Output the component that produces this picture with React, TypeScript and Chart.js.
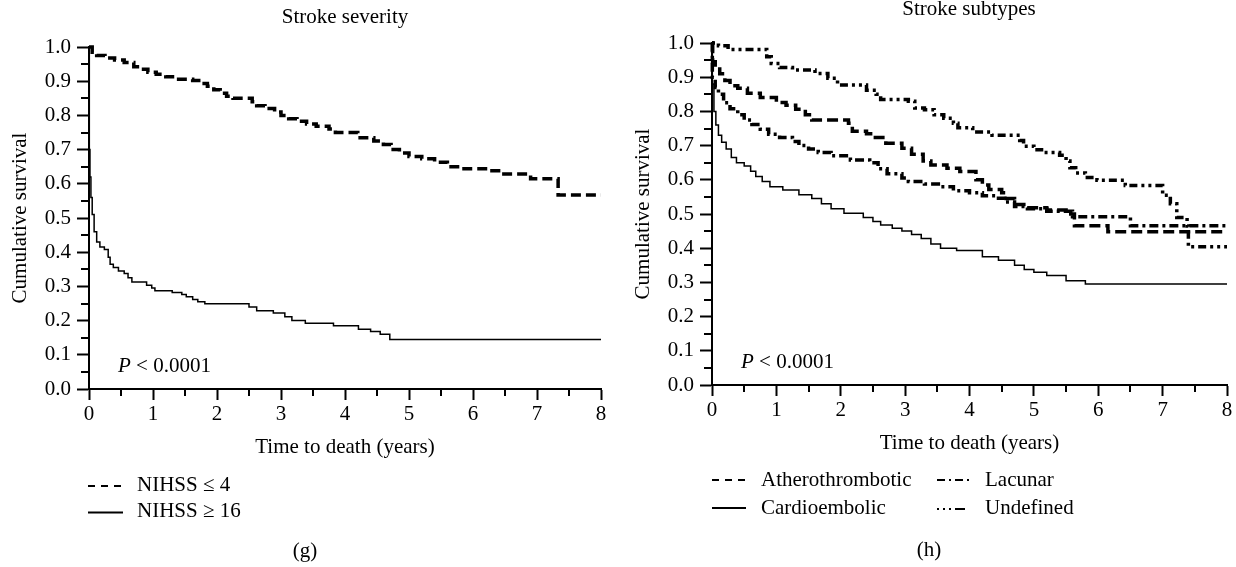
import React, { useEffect, useRef } from 'react';
import { Chart, registerables } from 'chart.js';

Chart.register(...registerables);

const FONT_FAMILY = '"Liberation Serif", "Times New Roman", "DejaVu Serif", serif';
const FONT_SIZE = 21;

// ---------- tick labels ----------
const xTickValues = [0, 1, 2, 3, 4, 5, 6, 7, 8];
const yTickValues = [0.0, 0.1, 0.2, 0.3, 0.4, 0.5, 0.6, 0.7, 0.8, 0.9, 1.0];

// ---------- panel (g): Stroke severity ----------
const nihssLow_t = [0, 0.05, 0.12, 0.25, 0.40, 0.55, 0.70, 0.80, 0.92, 1.05, 1.20, 1.35, 1.62, 1.75, 1.85, 1.95, 2.05, 2.15, 2.25, 2.55, 2.62, 2.75, 2.90, 3.00, 3.12, 3.25, 3.40, 3.55, 3.75, 3.85, 4.20, 4.45, 4.60, 4.72, 4.85, 5.00, 5.20, 5.40, 5.60, 5.80, 6.25, 6.40, 6.90, 7.33, 8.0];
const nihssLow_s = [1.0, 0.985, 0.975, 0.968, 0.962, 0.955, 0.942, 0.935, 0.926, 0.920, 0.913, 0.906, 0.902, 0.893, 0.885, 0.875, 0.865, 0.856, 0.850, 0.840, 0.828, 0.820, 0.810, 0.800, 0.790, 0.783, 0.775, 0.768, 0.760, 0.750, 0.735, 0.725, 0.715, 0.700, 0.690, 0.680, 0.673, 0.663, 0.650, 0.644, 0.638, 0.629, 0.615, 0.567, 0.567];

const nihssHigh_t = [0, 0.005, 0.015, 0.03, 0.05, 0.08, 0.12, 0.17, 0.24, 0.30, 0.33, 0.38, 0.46, 0.55, 0.61, 0.67, 0.90, 0.98, 1.03, 1.30, 1.45, 1.52, 1.62, 1.70, 1.81, 2.50, 2.62, 2.88, 3.06, 3.17, 3.38, 3.82, 4.21, 4.40, 4.55, 4.70, 8.0];
const nihssHigh_s = [1.0, 0.70, 0.62, 0.56, 0.51, 0.46, 0.43, 0.415, 0.408, 0.385, 0.365, 0.355, 0.345, 0.338, 0.325, 0.313, 0.303, 0.295, 0.287, 0.282, 0.276, 0.270, 0.262, 0.255, 0.249, 0.240, 0.229, 0.222, 0.211, 0.200, 0.192, 0.185, 0.175, 0.168, 0.160, 0.145, 0.145];

// ---------- panel (h): Stroke subtypes ----------
const athero_t = [0, 0.01, 0.05, 0.12, 0.20, 0.28, 0.40, 0.55, 0.75, 1.00, 1.15, 1.30, 1.45, 1.55, 2.12, 2.18, 2.40, 2.50, 2.70, 2.95, 3.10, 3.28, 3.40, 3.65, 3.85, 4.10, 4.20, 4.30, 4.50, 4.57, 4.70, 4.88, 5.20, 5.50, 5.63, 6.15, 8.0];
const athero_s = [1.0, 0.945, 0.93, 0.91, 0.89, 0.875, 0.868, 0.853, 0.841, 0.826, 0.818, 0.806, 0.79, 0.775, 0.765, 0.742, 0.735, 0.724, 0.707, 0.692, 0.675, 0.655, 0.643, 0.634, 0.624, 0.600, 0.585, 0.572, 0.562, 0.545, 0.528, 0.518, 0.512, 0.500, 0.466, 0.448, 0.448];

const lacunar_t = [0, 0.005, 0.05, 0.10, 0.18, 0.28, 0.40, 0.50, 0.62, 0.75, 0.88, 1.05, 1.25, 1.35, 1.50, 1.65, 1.85, 2.15, 2.45, 2.58, 2.72, 2.95, 3.05, 3.30, 3.55, 3.75, 4.00, 4.20, 4.45, 4.55, 4.70, 4.90, 5.20, 5.60, 6.50, 8.0];
const lacunar_s = [1.0, 0.90, 0.87, 0.85, 0.825, 0.808, 0.79, 0.775, 0.762, 0.748, 0.733, 0.724, 0.712, 0.700, 0.690, 0.680, 0.670, 0.658, 0.650, 0.632, 0.618, 0.605, 0.595, 0.588, 0.580, 0.568, 0.562, 0.553, 0.546, 0.535, 0.522, 0.515, 0.508, 0.492, 0.466, 0.466];

const cardio_t = [0, 0.005, 0.03, 0.06, 0.10, 0.15, 0.22, 0.30, 0.38, 0.50, 0.60, 0.68, 0.78, 0.90, 1.10, 1.35, 1.55, 1.70, 1.85, 2.05, 2.35, 2.50, 2.62, 2.80, 2.95, 3.10, 3.25, 3.40, 3.55, 3.80, 4.20, 4.45, 4.70, 4.85, 5.00, 5.20, 5.50, 5.80, 8.0];
const cardio_s = [1.0, 0.88, 0.80, 0.76, 0.73, 0.71, 0.69, 0.665, 0.65, 0.64, 0.625, 0.61, 0.595, 0.58, 0.57, 0.556, 0.545, 0.53, 0.515, 0.502, 0.49, 0.478, 0.468, 0.458, 0.45, 0.44, 0.428, 0.412, 0.40, 0.393, 0.375, 0.365, 0.35, 0.338, 0.33, 0.32, 0.305, 0.295, 0.295];

const undef_t = [0, 0.10, 0.25, 0.85, 0.92, 1.05, 1.25, 1.60, 1.80, 1.95, 2.40, 2.55, 2.62, 3.05, 3.15, 3.30, 3.45, 3.60, 3.75, 3.82, 4.05, 4.35, 4.78, 4.84, 5.00, 5.15, 5.40, 5.50, 5.56, 5.65, 5.80, 5.98, 6.42, 7.00, 7.12, 7.22, 7.38, 7.40, 8.0];
const undef_s = [1.0, 0.992, 0.981, 0.96, 0.94, 0.928, 0.921, 0.911, 0.897, 0.877, 0.862, 0.85, 0.835, 0.83, 0.81, 0.805, 0.79, 0.78, 0.765, 0.752, 0.74, 0.73, 0.715, 0.698, 0.688, 0.68, 0.672, 0.655, 0.635, 0.62, 0.607, 0.599, 0.583, 0.555, 0.53, 0.49, 0.465, 0.404, 0.404];

const toPoints = (t: number[], s: number[]) => t.map((x, i) => ({ x, y: s[i] }));

const extrasPlugin = {
  id: 'extras',
  afterDraw(chart: any, _args: any, opts: any) {
    const { ctx, chartArea } = chart;
    const xs = chart.scales.x;
    const ys = chart.scales.y;
    ctx.save();
    // minor ticks (midpoints between major ticks)
    ctx.strokeStyle = '#000';
    ctx.lineWidth = 2;
    ctx.setLineDash([]);
    for (let i = 0; i < ys.ticks.length - 1; i++) {
      const v = (ys.ticks[i].value + ys.ticks[i + 1].value) / 2;
      const py = Math.round(ys.getPixelForValue(v));
      ctx.beginPath();
      ctx.moveTo(chartArea.left - 8, py);
      ctx.lineTo(chartArea.left, py);
      ctx.stroke();
    }
    for (let i = 0; i < xs.ticks.length - 1; i++) {
      const v = (xs.ticks[i].value + xs.ticks[i + 1].value) / 2;
      const px = Math.round(xs.getPixelForValue(v));
      ctx.beginPath();
      ctx.moveTo(px, chartArea.bottom);
      ctx.lineTo(px, chartArea.bottom + 7);
      ctx.stroke();
    }
    ctx.fillStyle = '#000';
    ctx.textBaseline = 'alphabetic';
    ctx.font = `${FONT_SIZE}px ${FONT_FAMILY}`;
    ctx.textAlign = 'center';
    ctx.fillText(opts.title.text, opts.title.x, opts.title.y);
    ctx.fillText(opts.caption.text, opts.caption.x, opts.caption.y);
    ctx.textAlign = 'left';
    ctx.font = `italic ${FONT_SIZE}px ${FONT_FAMILY}`;
    ctx.fillText('P', opts.pText.x, opts.pText.y);
    const pw = ctx.measureText('P').width;
    ctx.font = `${FONT_SIZE}px ${FONT_FAMILY}`;
    ctx.fillText(' < 0.0001', opts.pText.x + pw, opts.pText.y);
    opts.legend.forEach((it: any) => {
      ctx.setLineDash(it.dash);
      ctx.lineWidth = it.width;
      ctx.beginPath();
      ctx.moveTo(it.x0, it.ly);
      ctx.lineTo(it.x1, it.ly);
      ctx.stroke();
      ctx.setLineDash([]);
      ctx.fillText(it.label, it.tx, it.ty);
    });
    ctx.restore();
  },
};

function makeConfig(p: any) {
  const font = { family: FONT_FAMILY, size: FONT_SIZE };
  return {
    type: 'line',
    data: { datasets: p.datasets },
    plugins: [extrasPlugin],
    options: {
      responsive: false,
      animation: false,
      events: [],
      devicePixelRatio: 1,
      layout: { padding: { left: 0, right: p.padRight, top: p.padTop, bottom: 0 } },
      elements: { point: { radius: 0 }, line: { tension: 0 } },
      plugins: {
        legend: { display: false },
        tooltip: { enabled: false },
        title: { display: false },
        extras: p.extras,
      },
      scales: {
        x: {
          type: 'linear',
          min: 0,
          max: 8,
          position: 'bottom',
          afterBuildTicks: (s: any) => { s.ticks = xTickValues.map((v) => ({ value: v })); },
          afterFit: (s: any) => { s.height = p.xAxisHeight; },
          ticks: { font, color: '#000', padding: 2, maxRotation: 0, autoSkip: false, callback: (v: any) => String(v) },
          grid: { drawOnChartArea: false, drawTicks: true, tickLength: 11, tickWidth: 2, tickColor: '#000' },
          border: { display: true, color: '#000', width: 2 },
          title: { display: true, text: 'Time to death (years)', font, color: '#000', padding: { top: 0, bottom: p.xTitlePad } },
        },
        y: {
          type: 'linear',
          min: 0,
          max: 1,
          afterBuildTicks: (s: any) => { s.ticks = yTickValues.map((v) => ({ value: v })); },
          afterFit: (s: any) => { s.width = p.yAxisWidth; },
          ticks: { font, color: '#000', padding: 6, autoSkip: false, callback: (v: any) => Number(v).toFixed(1) },
          grid: { drawOnChartArea: false, drawTicks: true, tickLength: 12, tickWidth: 2, tickColor: '#000' },
          border: { display: true, color: '#000', width: 2 },
          title: { display: true, text: 'Cumulative survival', font, color: '#000', padding: { top: p.yTitlePad, bottom: 0 } },
        },
      },
    },
  };
}

const lineBase = { borderColor: '#000', backgroundColor: '#000', fill: false, stepped: true, pointRadius: 0, clip: false };

const severityPanel = {
  padRight: 17,
  padTop: 47,
  xAxisHeight: 178,
  yAxisWidth: 89,
  xTitlePad: 107,
  yTitlePad: 8,
  datasets: [
    { ...lineBase, label: 'NIHSS ≤ 4', data: toPoints(nihssLow_t, nihssLow_s), borderWidth: 3.5, borderDash: [10, 5] },
    { ...lineBase, label: 'NIHSS ≥ 16', data: toPoints(nihssHigh_t, nihssHigh_s), borderWidth: 1.5 },
  ],
  extras: {
    title: { text: 'Stroke severity', x: 345, y: 23 },
    caption: { text: '(g)', x: 305, y: 557 },
    pText: { x: 118, y: 372 },
    legend: [
      { label: 'NIHSS ≤ 4', dash: [7, 6], width: 2, x0: 88, x1: 123, ly: 486, tx: 137, ty: 491 },
      { label: 'NIHSS ≥ 16', dash: [], width: 2, x0: 88, x1: 123, ly: 512.5, tx: 137, ty: 517 },
    ],
  },
};

const subtypePanel = {
  padRight: 9,
  padTop: 43,
  xAxisHeight: 182,
  yAxisWidth: 94,
  xTitlePad: 111,
  yTitlePad: 13,
  datasets: [
    { ...lineBase, label: 'Undefined', data: toPoints(undef_t, undef_s), borderWidth: 3.5, borderDash: [3, 4, 3, 4, 8, 4] },
    { ...lineBase, label: 'Atherothrombotic', data: toPoints(athero_t, athero_s), borderWidth: 3.5, borderDash: [11, 5] },
    { ...lineBase, label: 'Lacunar', data: toPoints(lacunar_t, lacunar_s), borderWidth: 3.5, borderDash: [9, 4, 3, 4] },
    { ...lineBase, label: 'Cardioembolic', data: toPoints(cardio_t, cardio_s), borderWidth: 1.5 },
  ],
  extras: {
    title: { text: 'Stroke subtypes', x: 351, y: 15 },
    caption: { text: '(h)', x: 311, y: 556 },
    pText: { x: 123, y: 368 },
    legend: [
      { label: 'Atherothrombotic', dash: [7, 6], width: 2, x0: 94, x1: 128, ly: 480, tx: 143, ty: 486 },
      { label: 'Lacunar', dash: [8, 4, 2, 4], width: 2, x0: 319, x1: 354, ly: 480, tx: 367, ty: 486 },
      { label: 'Cardioembolic', dash: [], width: 2, x0: 94, x1: 128, ly: 508, tx: 143, ty: 514 },
      { label: 'Undefined', dash: [2, 4, 2, 4, 2, 4, 10, 10], width: 2, x0: 319, x1: 354, ly: 509, tx: 367, ty: 514 },
    ],
  },
};

function KMChart({ panel, left }: { panel: any; left: number }) {
  const ref = useRef<HTMLCanvasElement>(null);
  useEffect(() => {
    const chart = new Chart(ref.current as HTMLCanvasElement, makeConfig(panel) as any);
    return () => chart.destroy();
  }, [panel]);
  return (
    <canvas
      ref={ref}
      width={618}
      height={567}
      style={{ position: 'absolute', left, top: 0, width: 618, height: 567 }}
    />
  );
}

export default function App() {
  return (
    <div style={{ position: 'absolute', left: 0, top: 0, width: 1236, height: 567, background: '#fff', overflow: 'hidden' }}>
      <KMChart panel={severityPanel} left={0} />
      <KMChart panel={subtypePanel} left={618} />
    </div>
  );
}
